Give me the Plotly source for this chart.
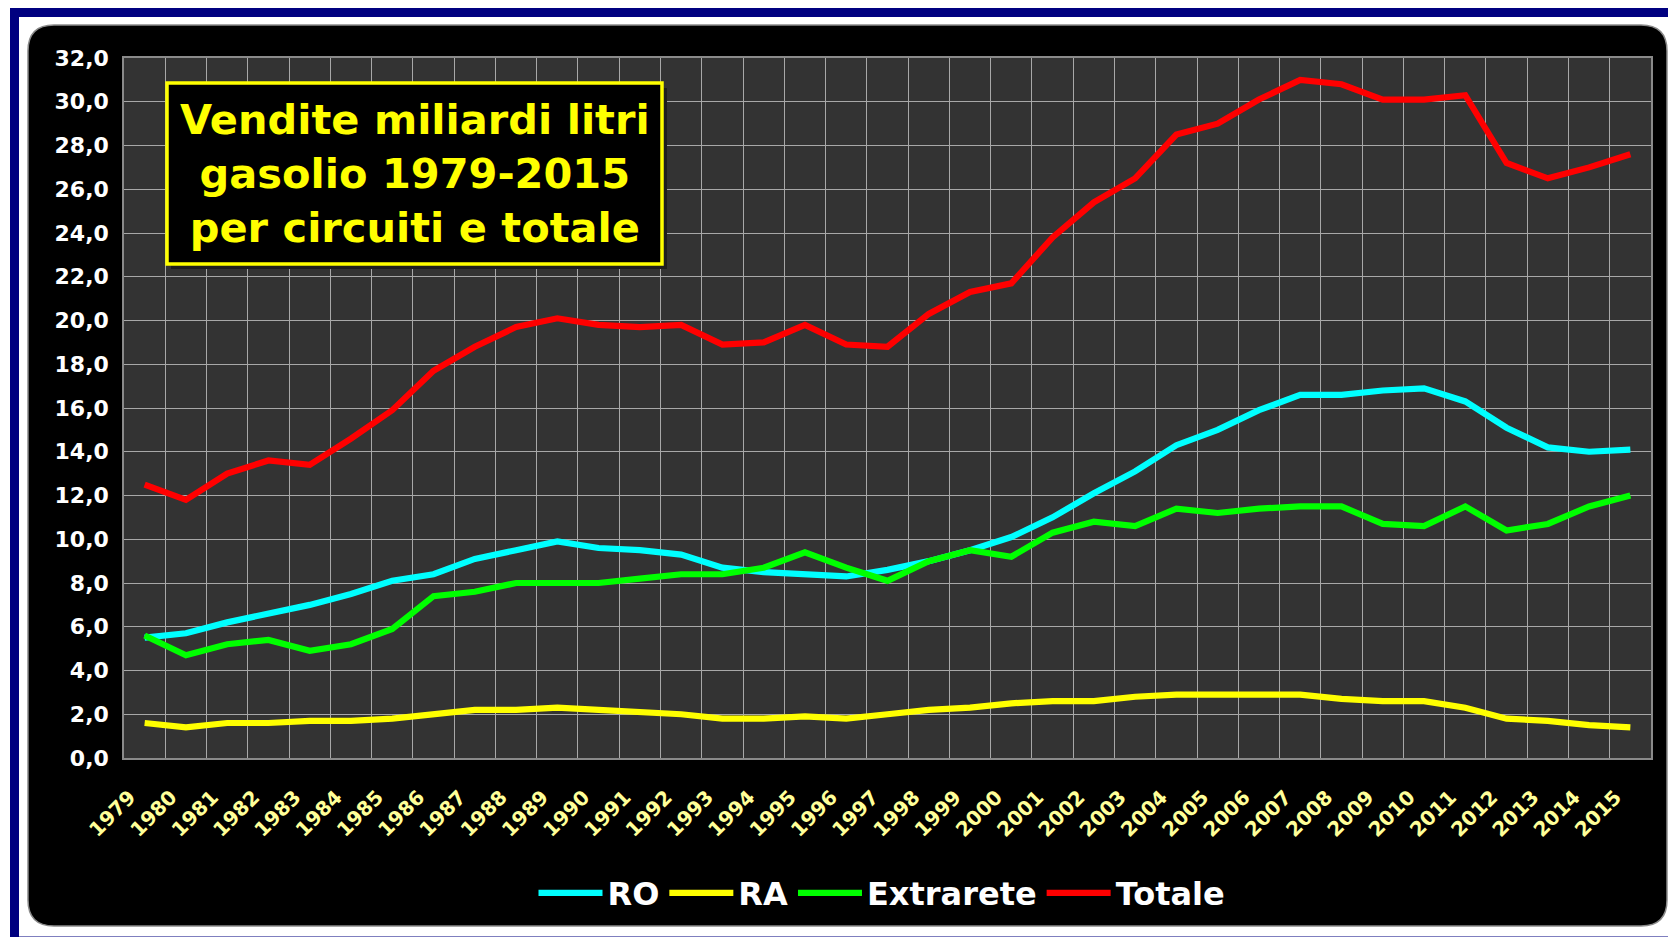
import plotly.graph_objects as go

years = [str(y) for y in range(1979, 2016)]
year_labels = [y + "\u00a0\u00a0\u00a0" for y in years]
ro = [5.5, 5.7, 6.2, 6.6, 7.0, 7.5, 8.1, 8.4, 9.1, 9.5, 9.9, 9.6, 9.5, 9.3, 8.7, 8.5, 8.4, 8.3, 8.6, 9.0,
      9.5, 10.1, 11.0, 12.1, 13.1, 14.3, 15.0, 15.9, 16.6, 16.6, 16.8, 16.9, 16.3, 15.1, 14.2, 14.0, 14.1]
ra = [1.6, 1.4, 1.6, 1.6, 1.7, 1.7, 1.8, 2.0, 2.2, 2.2, 2.3, 2.2, 2.1, 2.0, 1.8, 1.8, 1.9, 1.8, 2.0, 2.2,
      2.3, 2.5, 2.6, 2.6, 2.8, 2.9, 2.9, 2.9, 2.9, 2.7, 2.6, 2.6, 2.3, 1.8, 1.7, 1.5, 1.4]
extrarete = [5.6, 4.7, 5.2, 5.4, 4.9, 5.2, 5.9, 7.4, 7.6, 8.0, 8.0, 8.0, 8.2, 8.4, 8.4, 8.7, 9.4, 8.7, 8.1, 9.0,
             9.5, 9.2, 10.3, 10.8, 10.6, 11.4, 11.2, 11.4, 11.5, 11.5, 10.7, 10.6, 11.5, 10.4, 10.7, 11.5, 12.0]
totale = [12.5, 11.8, 13.0, 13.6, 13.4, 14.6, 15.9, 17.7, 18.8, 19.7, 20.1, 19.8, 19.7, 19.8, 18.9, 19.0, 19.8,
          18.9, 18.8, 20.3, 21.3, 21.7, 23.8, 25.4, 26.5, 28.5, 29.0, 30.1, 31.0, 30.8, 30.1, 30.1, 30.3, 27.2,
          26.5, 27.0, 27.6]

series_names = ["RO", "RA", "Extrarete", "Totale"]
series_values = [ro, ra, extrarete, totale]
series_colors = ["#00FFFF", "#FFFF00", "#00FF00", "#FF0000"]
title_text = "Vendite miliardi litri<br>gasolio 1979-2015<br>per circuiti e totale"

FW, FH = 1668, 937
L, R, T, B = 124, 1651, 58, 758
PW, PH = R - L, B - T


def px(x):
    return (x - L) / PW


def py(y):
    return (B - y) / PH


fig = go.Figure()
for name, vals, col in zip(series_names, series_values, series_colors):
    fig.add_trace(go.Scatter(x=years, y=vals, name=name, mode="lines",
                             line=dict(color=col, width=6.2)))

# rounded black background
x0, y0, x1, y1, r = 28, 25, 1667, 926, 26


def pt(x, y):
    return f"{px(x):.5f},{py(y):.5f}"


path = (f"M {pt(x0 + r, y0)} L {pt(x1 - r, y0)} Q {pt(x1, y0)} {pt(x1, y0 + r)} "
        f"L {pt(x1, y1 - r)} Q {pt(x1, y1)} {pt(x1 - r, y1)} L {pt(x0 + r, y1)} "
        f"Q {pt(x0, y1)} {pt(x0, y1 - r)} L {pt(x0, y0 + r)} Q {pt(x0, y0)} {pt(x0 + r, y0)} Z")

shapes = [
    dict(type="rect", xref="paper", yref="paper", x0=px(14.5), y0=py(941), x1=px(1700), y1=py(12.5),
         line=dict(color="#000080", width=9), fillcolor="rgba(0,0,0,0)", layer="below"),
    dict(type="path", xref="paper", yref="paper", path=path, fillcolor="#000000",
         line=dict(color="#8a8a8a", width=1.5), layer="below"),
    dict(type="rect", xref="paper", yref="paper", x0=0, y0=0, x1=1, y1=1,
         fillcolor="#333333", line=dict(width=0), layer="below"),
    # title box shadow
    dict(type="rect", xref="paper", yref="paper", x0=px(171), y0=py(269), x1=px(667), y1=py(88),
         fillcolor="#1e1e1e", line=dict(width=0), layer="above"),
    dict(type="rect", xref="paper", yref="paper", x0=px(167), y0=py(264), x1=px(662), y1=py(83),
         fillcolor="#000000", line=dict(color="#FFFF00", width=3.5), layer="above"),
]

fig.update_layout(
    width=FW, height=FH,
    margin=dict(l=L, r=FW - R, t=T, b=FH - B),
    paper_bgcolor="#FFFFFF",
    plot_bgcolor="rgba(0,0,0,0)",
    separators=",.",
    font=dict(family="DejaVu Sans", color="#FFFFFF"),
    shapes=shapes,
    showlegend=True,
    legend=dict(orientation="h", x=px(882), xanchor="center", y=py(893), yanchor="middle",
                font=dict(family="DejaVu Sans", size=32, color="#FFFFFF", weight="bold"),
                bgcolor="rgba(0,0,0,0)", itemwidth=64),
    annotations=[dict(xref="paper", yref="paper", x=px(414.5), y=py(173.5), xanchor="center",
                      yanchor="middle", text=title_text, showarrow=False, align="center",
                      font=dict(family="DejaVu Sans", size=41.5, color="#FFFF00", weight="bold"))],
)

fig.update_xaxes(type="category", range=[-0.5, 36.5], tickson="boundaries", showgrid=True,
                 tickmode="array", tickvals=years, ticktext=year_labels,
                 gridcolor="#a8a8a8", gridwidth=1.2, tickangle=-45, ticks="",
                 tickfont=dict(family="DejaVu Sans", size=20, color="#FFFF99", weight="bold"),
                 showline=True, mirror=True, linecolor="#8a8a8a", linewidth=1.5,
                 ticklabelstandoff=3, zeroline=False)
fig.update_yaxes(range=[0, 32], dtick=2, tick0=0, tickformat=".1f", showgrid=True,
                 gridcolor="#a8a8a8", gridwidth=1.2, ticks="",
                 tickfont=dict(family="DejaVu Sans", size=22, color="#FFFFFF", weight="bold"),
                 showline=True, mirror=True, linecolor="#8a8a8a", linewidth=1.5,
                 ticklabelstandoff=9, zeroline=False)

fig.write_html("out.html", config={"displayModeBar": False},
               post_script="document.body.style.margin='0px';"
                           "document.documentElement.style.overflow='hidden';")
